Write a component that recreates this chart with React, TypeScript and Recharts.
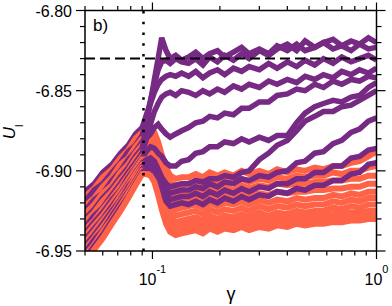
import { LineChart, Line, XAxis, YAxis, ReferenceLine } from 'recharts'

const FONT = '"Liberation Sans", Arial, Helvetica, sans-serif'
const PURPLE = '#762a83'
const ORANGE = '#ff6347'

// shared gamma grid for all runs
const gamma = [
  0.05, 0.055, 0.06, 0.066, 0.072, 0.078, 0.084, 0.09,
  0.094, 0.098, 0.102, 0.106, 0.11, 0.115, 0.12, 0.127, 0.135,
  0.145, 0.156, 0.168, 0.18, 0.195, 0.21, 0.23, 0.25, 0.27, 0.3, 0.33, 0.36,
  0.4, 0.44, 0.48, 0.53, 0.58, 0.64, 0.7, 0.77, 0.84, 0.92, 1.0,
]

const purple1 = [-6.930, -6.924, -6.917, -6.911, -6.904, -6.898, -6.891, -6.886, -6.871, -6.857, -6.843, -6.830, -6.817, -6.825, -6.830, -6.828, -6.831, -6.829, -6.826, -6.830, -6.827, -6.825, -6.829, -6.826, -6.823, -6.827, -6.824, -6.827, -6.822, -6.825, -6.821, -6.825, -6.823, -6.820, -6.824, -6.822, -6.825, -6.821, -6.824, -6.823]
const purple2 = [-6.919, -6.912, -6.908, -6.901, -6.895, -6.888, -6.884, -6.878, -6.867, -6.856, -6.846, -6.837, -6.832, -6.831, -6.833, -6.830, -6.832, -6.833, -6.830, -6.834, -6.829, -6.832, -6.828, -6.831, -6.827, -6.830, -6.825, -6.828, -6.824, -6.821, -6.825, -6.819, -6.823, -6.820, -6.818, -6.822, -6.819, -6.821, -6.817, -6.820]
const purple3 = [-6.913, -6.908, -6.901, -6.896, -6.889, -6.884, -6.877, -6.873, -6.865, -6.858, -6.851, -6.846, -6.843, -6.841, -6.840, -6.841, -6.839, -6.841, -6.838, -6.842, -6.839, -6.837, -6.840, -6.836, -6.838, -6.835, -6.837, -6.833, -6.836, -6.832, -6.835, -6.831, -6.834, -6.830, -6.833, -6.829, -6.832, -6.830, -6.828, -6.831]
const purple4 = [-6.935, -6.928, -6.923, -6.915, -6.908, -6.901, -6.895, -6.889, -6.880, -6.871, -6.863, -6.858, -6.854, -6.852, -6.851, -6.853, -6.850, -6.851, -6.853, -6.850, -6.852, -6.849, -6.851, -6.847, -6.849, -6.846, -6.848, -6.844, -6.846, -6.843, -6.845, -6.841, -6.843, -6.840, -6.842, -6.838, -6.840, -6.837, -6.839, -6.836]
const purple5 = [-6.925, -6.918, -6.914, -6.906, -6.900, -6.893, -6.888, -6.882, -6.880, -6.877, -6.873, -6.871, -6.874, -6.877, -6.879, -6.877, -6.875, -6.873, -6.870, -6.869, -6.866, -6.867, -6.864, -6.865, -6.861, -6.861, -6.857, -6.857, -6.853, -6.852, -6.849, -6.850, -6.846, -6.848, -6.844, -6.846, -6.843, -6.844, -6.841, -6.842]
const purple6 = [-6.939, -6.932, -6.926, -6.918, -6.912, -6.904, -6.898, -6.892, -6.888, -6.885, -6.886, -6.889, -6.891, -6.895, -6.897, -6.897, -6.894, -6.893, -6.889, -6.888, -6.885, -6.885, -6.882, -6.883, -6.880, -6.882, -6.879, -6.881, -6.878, -6.878, -6.870, -6.864, -6.860, -6.858, -6.856, -6.857, -6.854, -6.853, -6.848, -6.845]
const purple7 = [-6.943, -6.936, -6.930, -6.922, -6.915, -6.908, -6.901, -6.895, -6.893, -6.892, -6.894, -6.899, -6.904, -6.908, -6.910, -6.909, -6.908, -6.908, -6.906, -6.907, -6.905, -6.905, -6.903, -6.904, -6.901, -6.900, -6.893, -6.889, -6.884, -6.881, -6.875, -6.869, -6.866, -6.863, -6.863, -6.860, -6.859, -6.856, -6.853, -6.850]
const purple8 = [-6.947, -6.940, -6.933, -6.925, -6.918, -6.910, -6.904, -6.897, -6.895, -6.894, -6.896, -6.901, -6.907, -6.912, -6.914, -6.913, -6.912, -6.912, -6.910, -6.911, -6.908, -6.910, -6.907, -6.908, -6.905, -6.906, -6.903, -6.904, -6.901, -6.900, -6.895, -6.894, -6.889, -6.888, -6.883, -6.881, -6.876, -6.874, -6.869, -6.867]
const purple9 = [-6.951, -6.943, -6.937, -6.928, -6.920, -6.913, -6.906, -6.899, -6.897, -6.896, -6.899, -6.904, -6.910, -6.915, -6.918, -6.917, -6.916, -6.916, -6.914, -6.916, -6.913, -6.915, -6.912, -6.914, -6.911, -6.913, -6.910, -6.911, -6.908, -6.908, -6.905, -6.905, -6.901, -6.901, -6.897, -6.897, -6.892, -6.891, -6.887, -6.886]
const purple10 = [-6.955, -6.947, -6.940, -6.931, -6.923, -6.916, -6.908, -6.901, -6.899, -6.898, -6.901, -6.907, -6.913, -6.919, -6.922, -6.921, -6.920, -6.921, -6.919, -6.921, -6.918, -6.920, -6.917, -6.919, -6.916, -6.918, -6.915, -6.916, -6.913, -6.914, -6.911, -6.912, -6.909, -6.909, -6.906, -6.906, -6.902, -6.901, -6.896, -6.895]

const orange1 = [-6.916, -6.911, -6.904, -6.899, -6.892, -6.887, -6.880, -6.876, -6.875, -6.874, -6.876, -6.882, -6.890, -6.898, -6.903, -6.905, -6.904, -6.904, -6.902, -6.904, -6.901, -6.903, -6.901, -6.903, -6.900, -6.902, -6.900, -6.902, -6.899, -6.901, -6.899, -6.900, -6.898, -6.899, -6.897, -6.897, -6.895, -6.894, -6.891, -6.888]
const orange2 = [-6.922, -6.917, -6.910, -6.904, -6.896, -6.892, -6.885, -6.880, -6.879, -6.878, -6.880, -6.886, -6.894, -6.902, -6.907, -6.910, -6.909, -6.908, -6.907, -6.909, -6.906, -6.908, -6.906, -6.907, -6.905, -6.907, -6.905, -6.906, -6.904, -6.905, -6.903, -6.904, -6.903, -6.903, -6.901, -6.902, -6.900, -6.900, -6.898, -6.897]
const orange3 = [-6.927, -6.921, -6.914, -6.909, -6.901, -6.896, -6.889, -6.884, -6.883, -6.882, -6.885, -6.891, -6.899, -6.907, -6.912, -6.915, -6.914, -6.913, -6.911, -6.913, -6.911, -6.912, -6.910, -6.912, -6.909, -6.911, -6.909, -6.910, -6.908, -6.909, -6.908, -6.908, -6.907, -6.907, -6.906, -6.906, -6.905, -6.905, -6.903, -6.903]
const orange4 = [-6.932, -6.926, -6.919, -6.913, -6.906, -6.900, -6.893, -6.888, -6.887, -6.887, -6.889, -6.895, -6.904, -6.912, -6.917, -6.920, -6.919, -6.918, -6.916, -6.918, -6.916, -6.917, -6.915, -6.917, -6.914, -6.916, -6.914, -6.915, -6.913, -6.914, -6.913, -6.913, -6.912, -6.912, -6.911, -6.911, -6.910, -6.910, -6.908, -6.908]
const orange5 = [-6.937, -6.931, -6.924, -6.917, -6.910, -6.903, -6.897, -6.891, -6.890, -6.890, -6.893, -6.899, -6.908, -6.916, -6.921, -6.924, -6.923, -6.922, -6.921, -6.923, -6.920, -6.922, -6.920, -6.921, -6.919, -6.921, -6.918, -6.920, -6.918, -6.919, -6.917, -6.918, -6.917, -6.917, -6.915, -6.916, -6.914, -6.915, -6.913, -6.913]
const orange6 = [-6.941, -6.934, -6.928, -6.920, -6.913, -6.906, -6.899, -6.893, -6.893, -6.893, -6.896, -6.903, -6.912, -6.920, -6.925, -6.928, -6.927, -6.926, -6.925, -6.927, -6.924, -6.926, -6.924, -6.925, -6.923, -6.925, -6.922, -6.924, -6.922, -6.923, -6.921, -6.922, -6.921, -6.921, -6.919, -6.920, -6.918, -6.919, -6.917, -6.917]
const orange7 = [-6.945, -6.938, -6.931, -6.924, -6.916, -6.909, -6.902, -6.896, -6.896, -6.896, -6.899, -6.906, -6.915, -6.923, -6.929, -6.932, -6.931, -6.930, -6.929, -6.931, -6.928, -6.930, -6.928, -6.929, -6.927, -6.929, -6.926, -6.928, -6.926, -6.927, -6.925, -6.926, -6.925, -6.925, -6.923, -6.924, -6.922, -6.923, -6.921, -6.921]
const orange8 = [-6.949, -6.942, -6.935, -6.927, -6.919, -6.912, -6.904, -6.898, -6.898, -6.898, -6.902, -6.909, -6.918, -6.927, -6.933, -6.936, -6.934, -6.933, -6.932, -6.934, -6.931, -6.933, -6.931, -6.932, -6.930, -6.932, -6.929, -6.931, -6.929, -6.930, -6.928, -6.929, -6.928, -6.928, -6.927, -6.927, -6.926, -6.926, -6.925, -6.925]
const orange9 = [-6.953, -6.946, -6.938, -6.930, -6.922, -6.914, -6.907, -6.900, -6.900, -6.901, -6.905, -6.912, -6.921, -6.930, -6.936, -6.939, -6.937, -6.936, -6.934, -6.937, -6.934, -6.936, -6.934, -6.935, -6.933, -6.935, -6.932, -6.934, -6.932, -6.933, -6.931, -6.932, -6.931, -6.931, -6.930, -6.930, -6.929, -6.929, -6.928, -6.928]
const orange10 = [-6.957, -6.949, -6.942, -6.933, -6.925, -6.917, -6.909, -6.902, -6.902, -6.903, -6.907, -6.915, -6.924, -6.933, -6.938, -6.940, -6.939, -6.938, -6.937, -6.939, -6.936, -6.938, -6.936, -6.937, -6.935, -6.937, -6.935, -6.936, -6.934, -6.935, -6.933, -6.934, -6.933, -6.933, -6.932, -6.932, -6.931, -6.931, -6.930, -6.930]

// runs in drawing order (top of the low-gamma bundle first)
const runs = [
  { key: 'p3', color: PURPLE, values: purple3 },
  { key: 'o1', color: ORANGE, values: orange1 },
  { key: 'p2', color: PURPLE, values: purple2 },
  { key: 'o2', color: ORANGE, values: orange2 },
  { key: 'p5', color: PURPLE, values: purple5 },
  { key: 'o3', color: ORANGE, values: orange3 },
  { key: 'p1', color: PURPLE, values: purple1 },
  { key: 'o4', color: ORANGE, values: orange4 },
  { key: 'p4', color: PURPLE, values: purple4 },
  { key: 'o5', color: ORANGE, values: orange5 },
  { key: 'p6', color: PURPLE, values: purple6 },
  { key: 'o6', color: ORANGE, values: orange6 },
  { key: 'p7', color: PURPLE, values: purple7 },
  { key: 'o7', color: ORANGE, values: orange7 },
  { key: 'p8', color: PURPLE, values: purple8 },
  { key: 'o8', color: ORANGE, values: orange8 },
  { key: 'p9', color: PURPLE, values: purple9 },
  { key: 'o9', color: ORANGE, values: orange9 },
  { key: 'p10', color: PURPLE, values: purple10 },
  { key: 'o10', color: ORANGE, values: orange10 },
]

const xTicks = [0.05, 0.06, 0.07, 0.08, 0.09, 0.1, 0.2, 0.3, 0.4, 0.5, 0.6, 0.7, 0.8, 0.9, 1]
const xMajor = [0.1, 1]
const yTicks = [-6.95, -6.94, -6.93, -6.92, -6.91, -6.9, -6.89, -6.88, -6.87, -6.86, -6.85, -6.84, -6.83, -6.82, -6.81, -6.8]
const dashedLevel = -6.83
const dottedGamma = 0.0912

const rows = gamma.map((g, i) => {
  const row: Record<string, number> = { x: g }
  runs.forEach((r) => { row[r.key] = r.values[i] })
  return row
})

const isMajorY = (v: number) => Math.round(v * 100) % 5 === 0

function BottomTick(props: any) {
  const { x, y, payload } = props
  const v = payload.value
  const major = xMajor.includes(v)
  return (
    <g>
      <line x1={x} x2={x} y1={y} y2={y + (major ? 8 : 4.5)} stroke="#000" strokeWidth={1.2} />
      {major && (
        <text x={x} y={y + 34} textAnchor="middle" fontSize={16} fontFamily={FONT} fill="#000">
          10<tspan dy={-12} fontSize={11}>{v === 1 ? '0' : '-1'}</tspan>
        </text>
      )}
    </g>
  )
}

function TopTick(props: any) {
  const { x, y, payload } = props
  const major = xMajor.includes(payload.value)
  return <line x1={x} x2={x} y1={y} y2={y - (major ? 8 : 4.5)} stroke="#000" strokeWidth={1.2} />
}

function LeftTick(props: any) {
  const { x, y, payload } = props
  const v = payload.value
  const major = isMajorY(v)
  return (
    <g>
      <line x1={x - (major ? 9 : 5)} x2={x} y1={y} y2={y} stroke="#000" strokeWidth={1.2} />
      {major && (
        <text x={x - 13} y={y + 6} textAnchor="end" fontSize={16} fontFamily={FONT} fill="#000">
          {v.toFixed(2)}
        </text>
      )}
    </g>
  )
}

function RightTick(props: any) {
  const { x, y, payload } = props
  const major = isMajorY(payload.value)
  return <line x1={x} x2={x + (major ? 9 : 5)} y1={y} y2={y} stroke="#000" strokeWidth={1.2} />
}

const GammaLabel = () => (
  <text x={231} y={300} textAnchor="middle" fontSize={18} fontFamily={FONT} fill="#000">γ</text>
)

const PanelLabel = () => (
  <text x={93} y={31} fontSize={17} fontFamily={FONT} fill="#000">b)</text>
)

const ULabel = () => (
  <text transform="translate(15,132) rotate(-90)" textAnchor="middle" fontSize={17} fontFamily={FONT} fill="#000">
    <tspan fontStyle="italic">U</tspan>
    <tspan fontSize={11} dy={8}>l</tspan>
  </text>
)

const axisLine = { stroke: '#000', strokeWidth: 1.5 }

export default function App() {
  return (
    <div style={{ position: 'absolute', left: 0, top: 0, width: 392, height: 306, background: '#fff' }}>
      <LineChart width={392} height={306} data={rows} margin={{ top: 0, right: 0, bottom: 0, left: 0 }}>
        <XAxis
          xAxisId="b" dataKey="x" type="number" scale="log" domain={[0.05, 1]} allowDataOverflow
          ticks={xTicks} interval={0} height={55} tickSize={0} tickMargin={0} tickLine={false}
          axisLine={axisLine} tick={BottomTick} label={<GammaLabel />}
        />
        <XAxis
          xAxisId="t" orientation="top" dataKey="x" type="number" scale="log" domain={[0.05, 1]} allowDataOverflow
          ticks={xTicks} interval={0} height={10.5} tickSize={0} tickMargin={0} tickLine={false}
          axisLine={axisLine} tick={TopTick} label={<PanelLabel />}
        />
        <YAxis
          yAxisId="l" type="number" domain={[-6.95, -6.8]} allowDataOverflow ticks={yTicks} interval={0}
          width={85} tickSize={0} tickMargin={0} tickLine={false} axisLine={axisLine} tick={LeftTick}
          label={<ULabel />}
        />
        <YAxis
          yAxisId="r" orientation="right" type="number" domain={[-6.95, -6.8]} allowDataOverflow ticks={yTicks}
          interval={0} width={15.5} tickSize={0} tickMargin={0} tickLine={false} axisLine={axisLine} tick={RightTick}
        />
        {runs.map((r) => (
          <Line
            key={r.key} xAxisId="b" yAxisId="l" dataKey={r.key} stroke={r.color}
            strokeWidth={r.color === ORANGE ? 6 : 5.5}
            dot={false} isAnimationActive={false} type="linear"
          />
        ))}
        <ReferenceLine xAxisId="b" yAxisId="l" y={dashedLevel} stroke="#000" strokeWidth={2} strokeDasharray="10 5" />
        <ReferenceLine xAxisId="b" yAxisId="l" x={dottedGamma} stroke="#000" strokeWidth={2.5} strokeDasharray="2.5 8.3" />
      </LineChart>
    </div>
  )
}
